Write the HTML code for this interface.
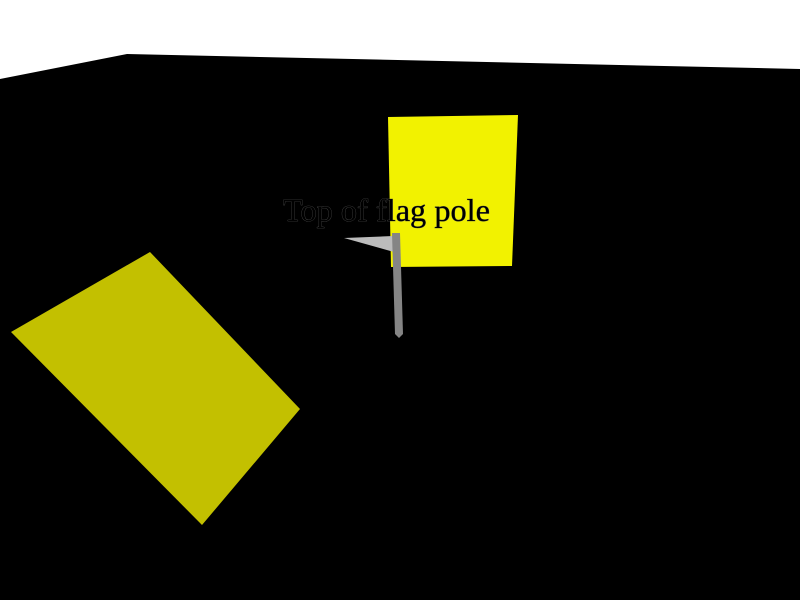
<!DOCTYPE html>
<html><head><meta charset="utf-8"><style>
html,body{margin:0;padding:0;background:#fff;}
svg{display:block;}
</style></head><body>
<svg width="800" height="600" viewBox="0 0 800 600">
  <polygon points="0,79 127,54 800,69 800,600 0,600" fill="#000"/>
  <polygon points="11,332 150,252 300,409 202,525" fill="#c3c000"/>
  <polygon points="388,117 518,115 512,266 391,267" fill="#f2f200"/>
  <polygon points="344,238 393,236 394,252" fill="#bcbcbc"/>
  <polygon points="392,233 400,233 403,334 399,338 395,334" fill="#858585"/>
  <text x="283" y="221" font-family="'Liberation Serif', serif" font-size="32" textLength="207" lengthAdjust="spacingAndGlyphs" fill="#000" stroke="#555" stroke-width="0.6" paint-order="stroke">Top of flag pole</text>
</svg>
</body></html>
